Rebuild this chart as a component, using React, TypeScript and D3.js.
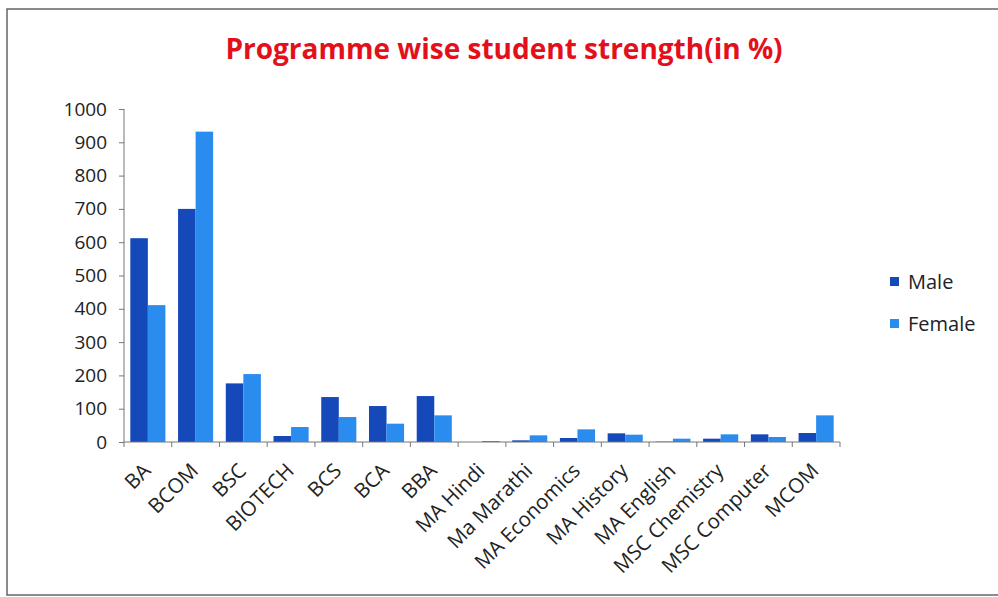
import React from "react";
import * as d3 from "d3";

const programmes = [
  "BA", "BCOM", "BSC", "BIOTECH", "BCS", "BCA", "BBA", "MA Hindi",
  "Ma Marathi", "MA Economics", "MA History", "MA English",
  "MSC Chemistry", "MSC Computer", "MCOM",
];
const maleValues = [612, 700, 176, 18, 135, 108, 138, 0, 5, 12, 26, 1, 10, 23, 27];
const femaleValues = [411, 932, 204, 45, 75, 55, 80, 3, 20, 38, 22, 10, 23, 15, 80];
const seriesNames = ["Male", "Female"];
const yTicks = [0, 100, 200, 300, 400, 500, 600, 700, 800, 900, 1000];

const W = 998;
const H = 597;
const FONT = "'Open Sans', 'Liberation Sans', sans-serif";
const colors = ["#1549b9", "#2b8cf0"];

export default function App() {
  const axisRef = React.useRef<SVGGElement>(null);

  const x = d3.scaleBand().domain(programmes).range([124, 840]).paddingInner(0).paddingOuter(0);
  const inner = d3.scaleBand().domain(seriesNames).range([0, x.bandwidth()]).paddingInner(0).paddingOuter(0.36);
  const y = d3.scaleLinear().domain([0, 1000]).range([442, 109]);

  const rows = programmes.map((p, i) => ({ p, values: [maleValues[i], femaleValues[i]] }));

  React.useEffect(() => {
    const g = d3.select(axisRef.current);
    g.selectAll("*").remove();
    const yAxis = d3.axisLeft(y).tickValues(yTicks).tickFormat(d3.format("d")).tickSize(5).tickPadding(12);
    g.append("g")
      .attr("transform", "translate(124,0)")
      .call(yAxis)
      .call((s) => s.select(".domain").attr("stroke", "#777").attr("d", "M0,109V442"))
      .call((s) => s.selectAll(".tick line").attr("stroke", "#777"))
      .selectAll("text")
      .style("font-family", FONT)
      .style("font-size", "19px")
      .attr("fill", "#222");

    const xAxis = d3.axisBottom(x).tickSize(0).tickFormat(() => "");
    const xg = g.append("g").attr("transform", "translate(0,442)").call(xAxis);
    xg.select(".domain").attr("stroke", "#777").attr("d", "M124,0H840");
    xg.selectAll(".tick").remove();
    const edges = d3.range(programmes.length + 1).map((i) => 124 + i * x.step());
    xg.selectAll("line.edge")
      .data(edges)
      .join("line")
      .attr("class", "edge")
      .attr("x1", (d) => d)
      .attr("x2", (d) => d)
      .attr("y1", 0)
      .attr("y2", 5)
      .attr("stroke", "#777");
  }, []);

  return (
    <svg width={W} height={H} style={{ position: "absolute", left: 0, top: 0, background: "#fff" }}>
      <rect x={7} y={9} width={W} height={586} fill="#fff" stroke="#666" strokeWidth={1.5} />
      <text
        x={504}
        y={59}
        textAnchor="middle"
        fill="#e3101c"
        fontFamily={FONT}
        fontWeight="bold"
        fontSize={28}
      >
        Programme wise student strength(in %)
      </text>
      {rows.map((r) => (
        <g key={r.p} transform={`translate(${x(r.p)},0)`}>
          {r.values.map((v, j) => (
            <rect
              key={j}
              x={inner(seriesNames[j])}
              y={y(v)}
              width={inner.bandwidth()}
              height={y(0) - y(v)}
              fill={colors[j]}
            />
          ))}
        </g>
      ))}
      <g ref={axisRef} />
      {programmes.map((p) => (
        <text
          key={p}
          transform={`translate(${(x(p) as number) + x.bandwidth() / 2 + 4},472) rotate(-45)`}
          textAnchor="end"
          fontFamily={FONT}
          fontSize={20.5}
          fill="#222"
        >
          {p}
        </text>
      ))}
      {seriesNames.map((s, i) => (
        <g key={s} transform={`translate(890,${277 + i * 42})`}>
          <rect x={0} y={0} width={9} height={9} fill={colors[i]} />
          <text x={18} y={12} fontFamily={FONT} fontSize={20} fill="#222">
            {s}
          </text>
        </g>
      ))}
    </svg>
  );
}
